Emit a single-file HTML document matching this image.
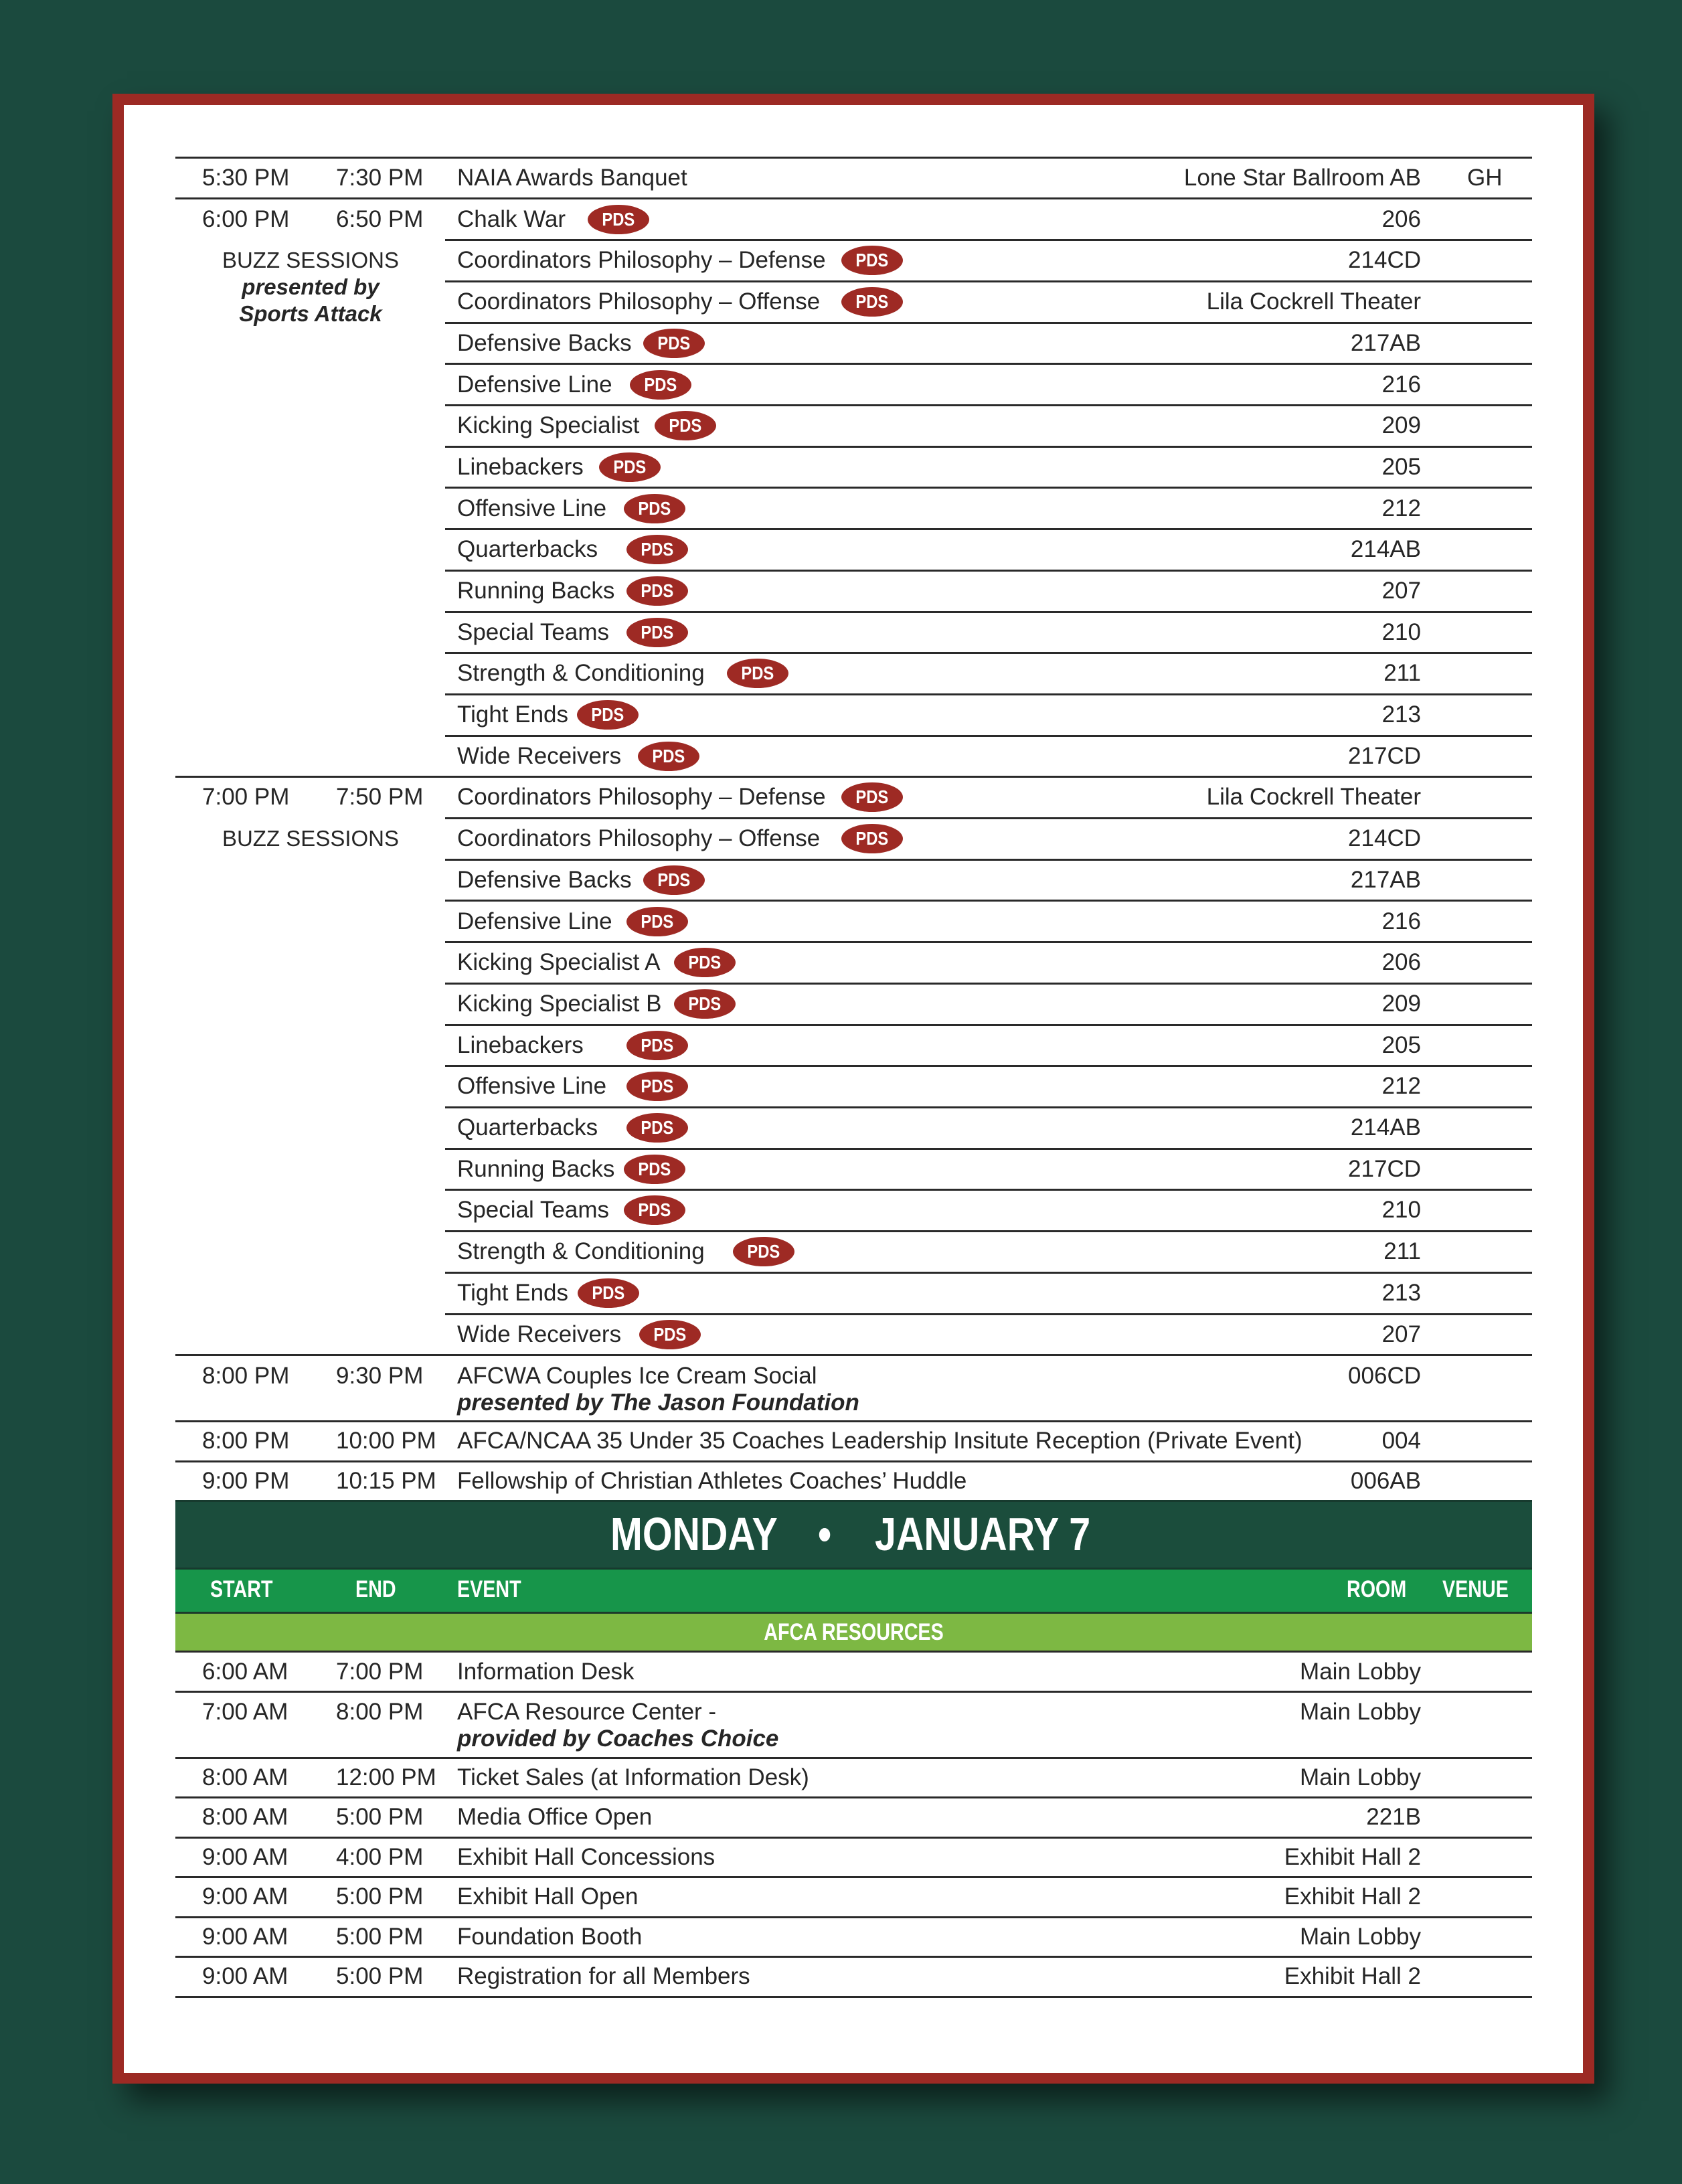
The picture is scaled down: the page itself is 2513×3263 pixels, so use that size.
<!DOCTYPE html>
<html><head><meta charset="utf-8">
<style>
*{margin:0;padding:0;box-sizing:border-box}
body{width:2513px;height:3263px;background:#1b4a3e;position:relative;overflow:hidden;font-family:"Liberation Sans",sans-serif;color:#262626}
.frame{position:absolute;left:168px;top:140px;width:2214px;height:2973px;background:#9c2a24;box-shadow:22px 26px 40px rgba(0,0,0,.55)}
.paper{position:absolute;left:185px;top:157px;width:2180px;height:2940px;background:#fff}
.row{position:absolute;left:262px;width:2027px;height:62px;line-height:62px;font-size:35px}
.row span{position:absolute;top:0;white-space:nowrap}
.s{left:40px}.e{left:240px}.ev{left:421px}
.rm{right:166px}
.vn{left:1930px;width:44px;text-align:center}
.two{line-height:40px;padding-top:12px}
.two span{top:12px}
.bi{font-weight:bold;font-style:italic}
.hl{position:absolute;left:262px;width:2027px;height:3px;background:#2a2a2a}
.hp{position:absolute;left:665px;width:1624px;height:3px;background:#2a2a2a}
.b{position:absolute;width:92px;height:44px;border-radius:50%;background:#9e2a24;color:#fff;font-weight:bold;font-size:28px;line-height:44px;text-align:center}
.b i{display:inline-block;font-style:normal;transform:scaleX(.85)}
.buzz{position:absolute;left:264px;width:400px;text-align:center;font-size:33px;line-height:40px;white-space:nowrap}
.band{position:absolute;left:262px;width:2027px;color:#fff;font-weight:bold}
.band span{position:absolute;white-space:nowrap;transform:scaleX(.82);transform-origin:0 50%}
</style></head><body>
<div class="frame"></div>
<div class="paper"></div>

<div class="hl" style="top:234px"></div>
<div class="hl" style="top:295px"></div>
<div class="hp" style="top:357px"></div><div class="hp" style="top:419px"></div><div class="hp" style="top:481px"></div><div class="hp" style="top:542px"></div><div class="hp" style="top:604px"></div><div class="hp" style="top:666px"></div><div class="hp" style="top:727px"></div><div class="hp" style="top:789px"></div><div class="hp" style="top:851px"></div><div class="hp" style="top:913px"></div><div class="hp" style="top:974px"></div><div class="hp" style="top:1036px"></div><div class="hp" style="top:1098px"></div>
<div class="hl" style="top:1159px"></div>
<div class="hp" style="top:1221px"></div><div class="hp" style="top:1283px"></div><div class="hp" style="top:1344px"></div><div class="hp" style="top:1406px"></div><div class="hp" style="top:1468px"></div><div class="hp" style="top:1530px"></div><div class="hp" style="top:1591px"></div><div class="hp" style="top:1653px"></div><div class="hp" style="top:1715px"></div><div class="hp" style="top:1776px"></div><div class="hp" style="top:1838px"></div><div class="hp" style="top:1900px"></div><div class="hp" style="top:1962px"></div>
<div class="hl" style="top:2023px"></div>
<div class="hl" style="top:2122px"></div>
<div class="hl" style="top:2182px"></div>

<div class="row" style="top:235px"><span class="s">5:30 PM</span><span class="e">7:30 PM</span><span class="ev">NAIA Awards Banquet</span><span class="rm">Lone Star Ballroom AB</span><span class="vn">GH</span></div>
<div class="row" style="top:297px"><span class="s">6:00 PM</span><span class="e">6:50 PM</span><span class="ev">Chalk War</span><span class="rm">206</span></div>
<div class="row" style="top:358px"><span class="ev">Coordinators Philosophy – Defense</span><span class="rm">214CD</span></div>
<div class="row" style="top:420px"><span class="ev">Coordinators Philosophy – Offense</span><span class="rm">Lila Cockrell Theater</span></div>
<div class="row" style="top:482px"><span class="ev">Defensive Backs</span><span class="rm">217AB</span></div>
<div class="row" style="top:544px"><span class="ev">Defensive Line</span><span class="rm">216</span></div>
<div class="row" style="top:605px"><span class="ev">Kicking Specialist</span><span class="rm">209</span></div>
<div class="row" style="top:667px"><span class="ev">Linebackers</span><span class="rm">205</span></div>
<div class="row" style="top:729px"><span class="ev">Offensive Line</span><span class="rm">212</span></div>
<div class="row" style="top:790px"><span class="ev">Quarterbacks</span><span class="rm">214AB</span></div>
<div class="row" style="top:852px"><span class="ev">Running Backs</span><span class="rm">207</span></div>
<div class="row" style="top:914px"><span class="ev">Special Teams</span><span class="rm">210</span></div>
<div class="row" style="top:975px"><span class="ev">Strength &amp; Conditioning</span><span class="rm">211</span></div>
<div class="row" style="top:1037px"><span class="ev">Tight Ends</span><span class="rm">213</span></div>
<div class="row" style="top:1099px"><span class="ev">Wide Receivers</span><span class="rm">217CD</span></div>

<div class="row" style="top:1160px"><span class="s">7:00 PM</span><span class="e">7:50 PM</span><span class="ev">Coordinators Philosophy – Defense</span><span class="rm">Lila Cockrell Theater</span></div>
<div class="row" style="top:1222px"><span class="ev">Coordinators Philosophy – Offense</span><span class="rm">214CD</span></div>
<div class="row" style="top:1284px"><span class="ev">Defensive Backs</span><span class="rm">217AB</span></div>
<div class="row" style="top:1346px"><span class="ev">Defensive Line</span><span class="rm">216</span></div>
<div class="row" style="top:1407px"><span class="ev">Kicking Specialist A</span><span class="rm">206</span></div>
<div class="row" style="top:1469px"><span class="ev">Kicking Specialist B</span><span class="rm">209</span></div>
<div class="row" style="top:1531px"><span class="ev">Linebackers</span><span class="rm">205</span></div>
<div class="row" style="top:1592px"><span class="ev">Offensive Line</span><span class="rm">212</span></div>
<div class="row" style="top:1654px"><span class="ev">Quarterbacks</span><span class="rm">214AB</span></div>
<div class="row" style="top:1716px"><span class="ev">Running Backs</span><span class="rm">217CD</span></div>
<div class="row" style="top:1777px"><span class="ev">Special Teams</span><span class="rm">210</span></div>
<div class="row" style="top:1839px"><span class="ev">Strength &amp; Conditioning</span><span class="rm">211</span></div>
<div class="row" style="top:1901px"><span class="ev">Tight Ends</span><span class="rm">213</span></div>
<div class="row" style="top:1963px"><span class="ev">Wide Receivers</span><span class="rm">207</span></div>

<div class="row two" style="top:2024px;height:99px"><span class="s">8:00 PM</span><span class="e">9:30 PM</span><span class="ev">AFCWA Couples Ice Cream Social<br><b class="bi">presented by The Jason Foundation</b></span><span class="rm">006CD</span></div>
<div class="row" style="top:2123px;height:60px;line-height:60px"><span class="s">8:00 PM</span><span class="e">10:00 PM</span><span class="ev">AFCA/NCAA 35 Under 35 Coaches Leadership Insitute Reception (Private Event)</span><span class="rm">004</span></div>
<div class="row" style="top:2183px;height:60px;line-height:60px"><span class="s">9:00 PM</span><span class="e">10:15 PM</span><span class="ev">Fellowship of Christian Athletes Coaches’ Huddle</span><span class="rm">006AB</span></div>

<div class="buzz" style="top:369px">BUZZ SESSIONS<br><b class="bi">presented by<br>Sports Attack</b></div>
<div class="buzz" style="top:1233px">BUZZ SESSIONS</div>

<div class="b" style="left:878px;top:306px"><i>PDS</i></div>
<div class="b" style="left:1257px;top:367px"><i>PDS</i></div>
<div class="b" style="left:1257px;top:429px"><i>PDS</i></div>
<div class="b" style="left:961px;top:491px"><i>PDS</i></div>
<div class="b" style="left:941px;top:553px"><i>PDS</i></div>
<div class="b" style="left:978px;top:614px"><i>PDS</i></div>
<div class="b" style="left:895px;top:676px"><i>PDS</i></div>
<div class="b" style="left:932px;top:738px"><i>PDS</i></div>
<div class="b" style="left:936px;top:799px"><i>PDS</i></div>
<div class="b" style="left:936px;top:861px"><i>PDS</i></div>
<div class="b" style="left:936px;top:923px"><i>PDS</i></div>
<div class="b" style="left:1086px;top:984px"><i>PDS</i></div>
<div class="b" style="left:862px;top:1046px"><i>PDS</i></div>
<div class="b" style="left:953px;top:1108px"><i>PDS</i></div>
<div class="b" style="left:1257px;top:1169px"><i>PDS</i></div>
<div class="b" style="left:1257px;top:1231px"><i>PDS</i></div>
<div class="b" style="left:961px;top:1293px"><i>PDS</i></div>
<div class="b" style="left:936px;top:1355px"><i>PDS</i></div>
<div class="b" style="left:1007px;top:1416px"><i>PDS</i></div>
<div class="b" style="left:1007px;top:1478px"><i>PDS</i></div>
<div class="b" style="left:936px;top:1540px"><i>PDS</i></div>
<div class="b" style="left:936px;top:1601px"><i>PDS</i></div>
<div class="b" style="left:936px;top:1663px"><i>PDS</i></div>
<div class="b" style="left:932px;top:1725px"><i>PDS</i></div>
<div class="b" style="left:932px;top:1786px"><i>PDS</i></div>
<div class="b" style="left:1095px;top:1848px"><i>PDS</i></div>
<div class="b" style="left:863px;top:1910px"><i>PDS</i></div>
<div class="b" style="left:955px;top:1972px"><i>PDS</i></div>

<div class="band" style="top:2241px;height:104px;background:#1b4d3c;border-top:3px solid #173a2e;border-bottom:3px solid #173a2e">
 <span style="left:650px;top:12px;font-size:70px;line-height:72px">MONDAY</span>
 <span style="left:960px;top:12px;font-size:70px;line-height:72px">•</span>
 <span style="left:1045px;top:12px;font-size:70px;line-height:72px">JANUARY 7</span>
</div>
<div class="band" style="top:2345px;height:63px;background:#17954a">
 <span style="left:52px;top:10px;font-size:35px;line-height:40px">START</span>
 <span style="left:269px;top:10px;font-size:35px;line-height:40px">END</span>
 <span style="left:421px;top:10px;font-size:35px;line-height:40px">EVENT</span>
 <span style="left:1750px;top:10px;font-size:35px;line-height:40px">ROOM</span>
 <span style="left:1893px;top:10px;font-size:35px;line-height:40px">VENUE</span>
</div>
<div class="band" style="top:2408px;height:58px;background:#7db843;border-top:3px solid #1b3a2a">
 <span style="left:0;width:2027px;text-align:center;top:8px;font-size:35px;line-height:40px;transform-origin:50% 50%">AFCA RESOURCES</span>
</div>
<div class="hl" style="top:2466px"></div>

<div class="row" style="top:2468px;height:59px;line-height:59px"><span class="s">6:00 AM</span><span class="e">7:00 PM</span><span class="ev">Information Desk</span><span class="rm">Main Lobby</span></div>
<div class="hl" style="top:2526px"></div>
<div class="row two" style="top:2527px;height:99px;padding-top:11px"><span class="s" style="top:11px">7:00 AM</span><span class="e" style="top:11px">8:00 PM</span><span class="ev" style="top:11px">AFCA Resource Center -<br><b class="bi">provided by Coaches Choice</b></span><span class="rm" style="top:11px">Main Lobby</span></div>
<div class="hl" style="top:2625px"></div>
<div class="row" style="top:2626px;height:59px;line-height:59px"><span class="s">8:00 AM</span><span class="e">12:00 PM</span><span class="ev">Ticket Sales (at Information Desk)</span><span class="rm">Main Lobby</span></div>
<div class="hl" style="top:2684px"></div>
<div class="row" style="top:2685px;height:59px;line-height:59px"><span class="s">8:00 AM</span><span class="e">5:00 PM</span><span class="ev">Media Office Open</span><span class="rm">221B</span></div>
<div class="hl" style="top:2744px"></div>
<div class="row" style="top:2745px;height:59px;line-height:59px"><span class="s">9:00 AM</span><span class="e">4:00 PM</span><span class="ev">Exhibit Hall Concessions</span><span class="rm">Exhibit Hall 2</span></div>
<div class="hl" style="top:2803px"></div>
<div class="row" style="top:2804px;height:59px;line-height:59px"><span class="s">9:00 AM</span><span class="e">5:00 PM</span><span class="ev">Exhibit Hall Open</span><span class="rm">Exhibit Hall 2</span></div>
<div class="hl" style="top:2863px"></div>
<div class="row" style="top:2864px;height:59px;line-height:59px"><span class="s">9:00 AM</span><span class="e">5:00 PM</span><span class="ev">Foundation Booth</span><span class="rm">Main Lobby</span></div>
<div class="hl" style="top:2922px"></div>
<div class="row" style="top:2923px;height:59px;line-height:59px"><span class="s">9:00 AM</span><span class="e">5:00 PM</span><span class="ev">Registration for all Members</span><span class="rm">Exhibit Hall 2</span></div>
<div class="hl" style="top:2982px"></div>
</body></html>
